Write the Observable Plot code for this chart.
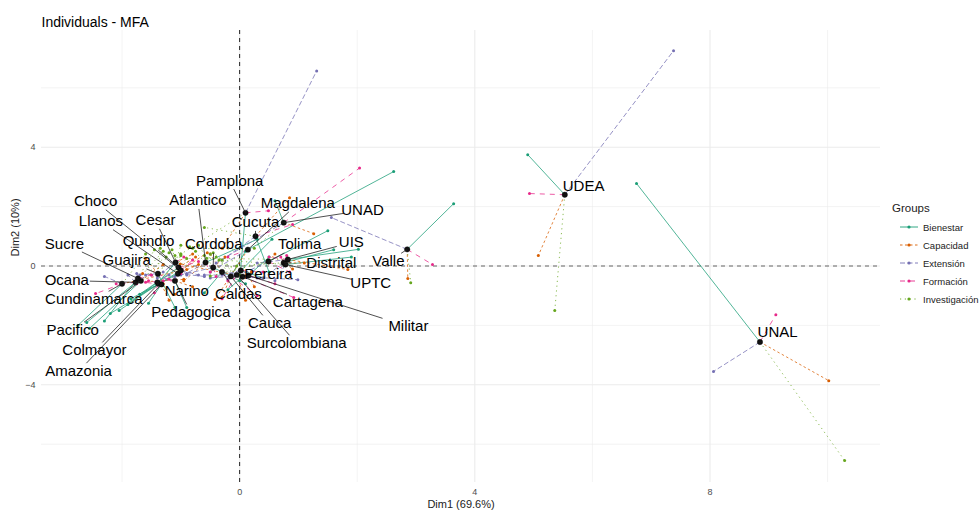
<!DOCTYPE html>
<html>
<head>
<meta charset="utf-8">
<script src="https://cdn.jsdelivr.net/npm/d3@7"></script>
<script src="https://cdn.jsdelivr.net/npm/@observablehq/plot@0.6"></script>
<style>
  html, body { margin: 0; padding: 0; background: #fff; }
  #chart { width: 980px; height: 512px; }
  svg { font-family: "Liberation Sans", Arial, sans-serif; }
</style>
</head>
<body>
<div id="chart"></div>
<script>
// ---------------- DATA ----------------
const universities = ["Cundinamarca","Ocana","Pacifico","Sucre","Colmayor","Amazonia","Narino","Guajira","Pedagogica","Quindio","Cesar","Llanos","Choco","Atlantico","Cordoba","Caldas","Cauca","Surcolombiana","Cartagena","Militar","Pereira","Magdalena","Cucuta","UNAD","Pamplona","Tolima","UIS","Distrital","UPTC","Valle","UDEA","UNAL"];

const centerX = [-2.0,-1.77,-1.68,-1.73,-1.38,-1.33,-1.4,-1.39,-1.1,-1.04,-1.09,-1.05,-1.0,-0.58,-0.45,-0.3,-0.15,-0.05,0.05,0.15,0.02,0.14,0.27,0.75,0.1,0.49,0.82,0.75,0.78,2.85,5.53,8.85];
const centerY = [-0.6,-0.55,-0.5,-0.42,-0.6,-0.62,-0.55,-0.26,-0.5,-0.05,0.12,-0.26,-0.15,0.12,-0.05,-0.2,-0.35,-0.3,-0.36,-0.32,-0.15,0.55,1.0,1.46,1.79,0.15,0.22,0.11,0.05,0.56,2.4,-2.56];

const groups = ["Bienestar","Capacidad","Extensión","Formación","Investigación"];

const bienestarX = [-2.75,-2.6,-2.55,-2.3,-2.05,-1.55,-1.9,-1.1,-0.9,-1.7,-1.4,-1.85,-2.2,0.3,0.1,-0.6,0.1,0.55,-0.2,0.5,0.4,2.62,0.5,0.6,0.0,1.5,2.02,1.6,1.9,3.64,4.9,6.75];
const bienestarY = [-2.0,-1.9,-2.1,-1.85,-1.5,-1.25,-1.3,-1.4,-1.4,-0.95,-0.6,-1.1,-1.6,0.9,-0.6,-0.9,0.5,0.9,-0.8,0.3,-0.4,3.18,-0.2,2.2,-0.5,1.19,0.56,0.55,0.3,2.1,3.75,2.78];

const capacidadX = [-0.9,-0.95,-1.3,-1.65,-1.3,-1.2,-1.1,-1.6,-0.8,-0.75,-0.8,-0.7,-0.55,-0.95,-0.25,-0.5,-0.3,0.1,-1.01,0.25,0.2,-0.42,0.85,1.26,-0.3,0.6,1.84,1.1,0.9,2.86,5.08,10.02];
const capacidadY = [-0.12,-0.45,0.05,-0.25,-0.6,-1.15,-0.95,0.25,-0.7,0.3,0.4,0.05,0.45,-0.5,0.3,0.4,-1.05,-1.15,0.07,-0.7,-0.2,-1.13,2.3,1.09,0.6,0.4,-0.12,0.1,-0.1,-0.42,0.35,-3.86];

const extensionX = [-2.3,-1.9,-1.6,-1.75,-1.1,-1.4,-1.2,-1.7,-1.5,-0.9,-1.3,-0.6,-0.7,-0.9,-1.0,0.3,-0.5,-0.2,0.99,-0.6,-0.3,-0.5,-0.3,-0.4,1.31,0.0,0.3,0.4,0.6,1.56,7.38,8.06];
const extensionY = [-0.35,-0.3,-0.3,-0.25,-0.35,-0.4,-0.3,-0.3,-0.3,-0.3,-0.2,-0.35,-0.3,-0.25,-0.3,-0.4,-0.4,-0.45,-0.46,-0.3,-0.3,-0.2,0.2,0.1,6.57,-0.3,0.1,-0.4,-0.5,1.63,7.25,-3.55];

const formacionX = [-2.45,-2.1,-1.75,-1.5,-1.45,-1.6,-1.55,-1.2,-1.3,-0.7,-0.95,-1.0,-0.8,-0.5,-0.4,-0.2,0.3,-0.3,0.92,0.6,0.4,-0.2,0.9,2.04,0.49,0.85,0.5,0.7,0.8,3.28,4.93,9.12];
const formacionY = [-0.93,-0.6,-0.6,-0.3,-0.9,-0.55,-0.5,-0.45,-0.5,0.15,0.3,-0.25,0.2,-0.2,-0.35,-0.5,-1.0,-1.1,-1.06,-0.6,-0.2,0.3,1.4,3.3,1.86,-0.2,0.3,0.3,0.35,0.05,2.44,-1.64];

const investigacionX = [-1.6,-1.3,-1.2,-1.45,-1.0,-0.9,-1.25,-1.35,-1.0,-1.15,-1.0,-1.1,-0.75,-0.85,-0.7,-0.5,-0.35,-0.4,-0.45,0.0,-0.6,-0.8,-0.6,0.25,-1.0,-0.5,-0.56,-0.05,-0.3,2.91,5.36,10.29];
const investigacionY = [0.4,0.5,0.45,0.55,0.35,0.25,0.3,0.6,0.4,0.55,0.7,0.35,0.5,0.65,0.7,0.4,0.2,0.3,0.45,-0.3,0.35,0.6,1.3,0.6,0.4,-0.34,0.26,0.0,0.2,-0.56,-1.5,-6.55];

// label anchor positions (data units, as placed by the repel step)
const labelX = [-2.48,-2.94,-2.84,-2.98,-2.47,-2.74,-0.9,-1.92,-0.83,-1.55,-1.43,-2.36,-2.45,-0.71,-0.44,-0.02,0.51,0.97,1.16,2.87,0.49,0.99,0.27,2.09,-0.17,1.02,1.9,1.56,2.23,2.53,5.85,9.15];
const labelY = [-1.13,-0.49,-2.17,0.75,-2.85,-3.55,-0.86,0.18,-1.57,0.82,1.53,1.5,2.17,2.2,0.72,-0.96,-1.94,-2.61,-1.23,-2.04,-0.26,2.1,1.46,1.87,2.87,0.72,0.79,0.08,-0.59,0.15,2.68,-2.24];

const xTicksMajor = [0, 4, 8];
const xTicksMinor = [-2, 2, 6, 10];
const yTicksMajor = [-4, 0, 4];
const yTicksMinor = [-6, -2, 2, 6];

const xTitle = "Dim1 (69.6%)";
const yTitle = "Dim2 (10%)";
const chartTitle = "Individuals - MFA";
const legendTitle = "Groups";

// ---------------- BUILD ----------------
const colors = ["#1B9E77", "#D95F02", "#7570B3", "#E7298A", "#66A61E"];
const dashes = ["none", "2.5,2.5", "5,2.5", "5,5", "1.2,3.6"];
const partialX = [bienestarX, capacidadX, extensionX, formacionX, investigacionX];
const partialY = [bienestarY, capacidadY, extensionY, formacionY, investigacionY];

const centers = universities.map((u, i) => ({name: u, x: centerX[i], y: centerY[i]}));
const partials = [];
groups.forEach((g, gi) => {
  universities.forEach((u, i) => {
    partials.push({group: g, gi, name: u, x: partialX[gi][i], y: partialY[gi][i], cx: centerX[i], cy: centerY[i]});
  });
});

const W = 980, H = 512;
const mL = 41, mR = 100, mT = 30, mB = 30;
const xDomain = [-3.37, 10.9], yDomain = [-7.29, 7.93];
const kx = (W - mL - mR) / (xDomain[1] - xDomain[0]);
const ky = (H - mT - mB) / (yDomain[1] - yDomain[0]);
const fontSize = 15;

// repel segments: from label box edge to point
const segs = [];
universities.forEach((u, i) => {
  const lx = labelX[i], ly = labelY[i], px = centerX[i], py = centerY[i];
  const dx = (px - lx) * kx, dy = (py - ly) * ky;
  const hw = u.length * fontSize * 0.28 + 2, hh = fontSize * 0.55;
  if (Math.abs(dx) <= hw && Math.abs(dy) <= hh) return;
  const t = Math.min(Math.abs(dx) > 0 ? hw / Math.abs(dx) : Infinity, Math.abs(dy) > 0 ? hh / Math.abs(dy) : Infinity);
  const len = Math.hypot(dx, dy) * (1 - t);
  if (len < 5) return;
  segs.push({x1: lx + (px - lx) * t, y1: ly + (py - ly) * t, x2: px, y2: py});
});

const marks = [
  Plot.gridX(xTicksMinor, {stroke: "#ebebeb", strokeOpacity: 1, strokeWidth: 0.6}),
  Plot.gridY(yTicksMinor, {stroke: "#ebebeb", strokeOpacity: 1, strokeWidth: 0.6}),
  Plot.gridX(xTicksMajor, {stroke: "#ebebeb", strokeOpacity: 1, strokeWidth: 1.1}),
  Plot.gridY(yTicksMajor, {stroke: "#ebebeb", strokeOpacity: 1, strokeWidth: 1.1}),
  Plot.ruleY([0], {stroke: "#666", strokeWidth: 1, strokeDasharray: "4,4"}),
  Plot.ruleX([0], {stroke: "#222", strokeWidth: 1, strokeDasharray: "4,4"}),
];
groups.forEach((g, gi) => {
  marks.push(Plot.link(partials.filter(d => d.gi === gi), {
    x1: "cx", y1: "cy", x2: "x", y2: "y",
    stroke: colors[gi], strokeWidth: 0.9, strokeOpacity: 0.85,
    strokeDasharray: dashes[gi]
  }));
});
groups.forEach((g, gi) => {
  marks.push(Plot.dot(partials.filter(d => d.gi === gi), {
    x: "x", y: "y", r: 1.5, fill: colors[gi], stroke: "none"
  }));
});
marks.push(
  Plot.dot(centers, {x: "x", y: "y", r: 2.7, fill: "#111", stroke: "#000", strokeWidth: 0.4}),
  Plot.link(segs, {x1: "x1", y1: "y1", x2: "x2", y2: "y2", stroke: "#222", strokeWidth: 0.8}),
  Plot.text(universities, {x: (d, i) => labelX[i], y: (d, i) => labelY[i], text: d => d, fontSize: fontSize, fill: "#000"}),
  Plot.axisX(xTicksMajor, {tickSize: 0, tickPadding: 6, fontSize: 9, fill: "#4d4d4d", label: null}),
  Plot.axisY(yTicksMajor, {tickSize: 0, tickPadding: 6, fontSize: 9, fill: "#4d4d4d", label: null}),
  Plot.text([xTitle], {frameAnchor: "bottom", dy: 25, fontSize: 11, fill: "#222"}),
  Plot.text([yTitle], {frameAnchor: "left", dx: -26, rotate: -90, fontSize: 11, fill: "#222"}),
  Plot.text([chartTitle], {frameAnchor: "top-left", dy: -13, textAnchor: "start", fontSize: 14, fill: "#000"})
);

const plot = Plot.plot({
  width: W, height: H,
  marginLeft: mL, marginRight: mR, marginTop: mT, marginBottom: mB,
  x: {domain: xDomain},
  y: {domain: yDomain},
  style: {fontFamily: "'Liberation Sans', Arial, sans-serif", background: "#fff", overflow: "visible"},
  marks
});

// legend (drawn in the right margin)
const svg = d3.select(plot);
const lg = svg.append("g").attr("transform", "translate(892,0)").attr("text-anchor", "start");
lg.append("text").attr("x", 0).attr("y", 212).attr("font-size", 11.5).attr("fill", "#222").attr("text-anchor", "start").text(legendTitle);
groups.forEach((g, gi) => {
  const yy = 227 + gi * 18;
  lg.append("line").attr("x1", 8).attr("x2", 26).attr("y1", yy).attr("y2", yy)
    .attr("stroke", colors[gi]).attr("stroke-width", 0.9)
    .attr("stroke-dasharray", dashes[gi] === "none" ? null : dashes[gi]);
  lg.append("circle").attr("cx", 17).attr("cy", yy).attr("r", 1.6).attr("fill", colors[gi]);
  lg.append("text").attr("x", 31).attr("y", yy + 3.5).attr("font-size", 9.5).attr("fill", "#222").attr("text-anchor", "start").text(g);
});

document.getElementById("chart").appendChild(plot);
</script>
</body>
</html>
